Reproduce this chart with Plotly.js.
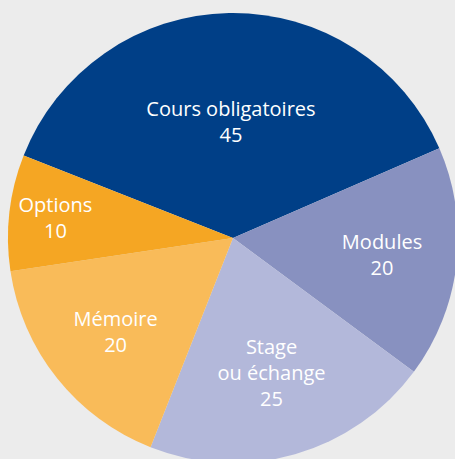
<!DOCTYPE html>
<html>
<head>
<meta charset="utf-8">
<script src="https://cdn.plot.ly/plotly-3.0.1.min.js"></script>
<style>
html,body{margin:0;padding:0;background:#ececec;overflow:hidden;}
#chart{width:460px;height:476px;}
</style>
</head>
<body>
<div id="chart"></div>
<script>
var labels = ["Cours obligatoires", "Modules", "Stage<br>ou échange", "Mémoire", "Options"];
var values = [45, 20, 25, 20, 10];
var colors = ["#003f87", "#8891c0", "#b3b8da", "#f9bb59", "#f5a623"];

var trace = {
  type: "pie",
  labels: labels,
  values: values,
  sort: false,
  direction: "clockwise",
  rotation: -68.5,
  marker: {colors: colors, line: {width: 0}},
  textinfo: "label+value",
  textposition: "inside",
  insidetextorientation: "horizontal",
  textfont: {family: "Open Sans, sans-serif", size: 20, color: "#ffffff"},
  hoverinfo: "none",
  showlegend: false
};

var layout = {
  width: 460,
  height: 476,
  margin: {l: 8, r: 2, t: 13, b: 13},
  paper_bgcolor: "#ececec",
  plot_bgcolor: "#ececec",
  showlegend: false
};

Plotly.newPlot("chart", [trace], layout, {displayModeBar: false, staticPlot: true});
</script>
</body>
</html>
